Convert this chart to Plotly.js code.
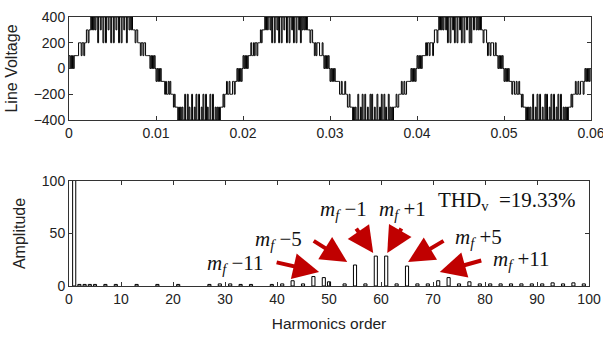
<!DOCTYPE html>
<html><head><meta charset="utf-8">
<script src="https://cdn.plot.ly/plotly-3.0.1.min.js"></script>
<style>html,body{margin:0;padding:0;background:#fff}#chart{width:603px;height:337px}</style>
</head><body><div id="chart"></div>
<script>
// ---- Top panel: multilevel PWM line voltage, sampled every 0.1 ms (V) ----
const sampleStep = 0.0001; // seconds between samples
const cycle1Pos = [100,0,100,0,100,0,100, 100,100,100,100,200, 200,200,100,200,200,100,200,200, 300,300,200,300,300, 400,300,400,300,400,300,400,
 400,200,400,400,300,400,400,200,400,400,200,400, 400,300,400,400,200,400,400,200,400,400,300,400, 400,200,400,400,200,400,400,300,400,400,200,400,
 400,300,400,300,400,300,300, 300,200,300,300,200, 200,200,100,200,200,100,200,200, 100,100,100,100,100, 0,100,0,100,0,100,0];
const cycle1Neg = [-100,0,-100,0,-100,0,-100, -100,-100,-100,-200,-100, -200,-200,-100,-200,-100,-200,-200,-200, -300,-200,-300,-300,-300, -400,-300,-400,-300,-400,-300,-400,
 -400,-200,-400,-400,-200,-400,-300,-400,-400,-200,-400,-400, -300,-400,-200,-400,-400,-200,-400,-400,-300,-400,-200,-400, -400,-200,-400,-300,-400,-400,-200,-400,-400,-200,-400,-400,
 -300,-400,-300,-400,-300,-400,-300, -300,-300,-200,-300,-200, -200,-100,-200,-200,-100,-200,-200,-200, -100,-100,-200,-100,-100, 0,-100,0,-100,0,-100,0];
const cycle2Pos = [100,0,100,0,100,0,100, 100,100,200,100,100, 200,100,200,200,100,200,200,200, 300,200,300,300,300, 400,300,400,300,400,400,300,
 400,200,400,400,200,400,400,300,400,200,400,400, 200,400,400,300,400,400,200,400,400,200,400,400, 300,400,200,400,400,200,400,400,300,400,200,400,
 300,400,300,400,300,400,300, 300,300,200,300,300, 200,200,100,200,100,200,200,200, 100,100,100,200,100, 0,100,0,100,0,100,0];
const cycle2Neg = [-100,0,-100,0,-100,0,-100, -100,-100,-100,-100,-200, -200,-100,-200,-200,-200,-100,-200,-200, -300,-300,-200,-300,-300, -300,-400,-300,-400,-300,-400,-400,
 -200,-400,-400,-300,-400,-200,-400,-400,-200,-400,-400,-300, -400,-400,-200,-400,-200,-400,-400,-300,-400,-400,-200,-400, -400,-300,-400,-200,-400,-400,-200,-400,-300,-400,-400,-200,
 -400,-300,-400,-300,-400,-300,-300, -300,-200,-300,-300,-200, -200,-200,-100,-200,-200,-100,-200,-200, -100,-100,-100,-100,-100, 0,-100,0,-100,0,-100,0];
const cycle3Pos = [100,0,100,0,100,0,100, 100,100,100,200,100, 200,200,100,200,200,200,100,200, 300,300,300,200,300, 400,300,400,300,400,300,400,
 400,300,400,200,400,400,200,400,400,300,400,200, 400,400,200,400,400,300,400,200,400,400,200,400, 400,300,400,400,200,400,200,400,400,300,400,400,
 300,400,300,400,300,400,300, 300,200,300,300,300, 200,100,200,200,100,200,200,200, 100,100,200,100,100, 0,100,0,100,0,100,0];
const cycle3Neg = [-100,0,-100,0,-100,0,-100, -100,-100,-200,-100,-100, -200,-200,-100,-200,-200,-100,-200,-200, -300,-200,-300,-300,-300, -400,-300,-400,-300,-400,-300,-400,
 -400,-200,-400,-400,-300,-400,-200,-400,-400,-200,-400,-400, -300,-400,-400,-200,-400,-200,-400,-400,-300,-400,-200,-400, -400,-200,-400,-400,-300,-400,-200,-400,-400,-200,-400,-400,
 -300,-400,-300,-400,-300,-400,-300, -300,-300,-200,-300,-200, -200,-200,-100,-200,-200,-100,-200,-200, -100,-100,-100,-200,-100, 0,-100,0,-100,0,-100,0];
const waveEnd = [0];
const lineVoltage = [].concat(cycle1Pos, cycle1Neg, cycle2Pos, cycle2Neg, cycle3Pos, cycle3Neg, waveEnd);

// ---- Bottom panel: harmonic spectrum (fundamental is off-scale, clipped at 100) ----
const harmonicOrder = [1,2,3,4,5,7,9,13,17,21,27,29,31,33,35,39,41,43,45,47,49,50,53,55,57,59,61,63,65,67,69,71,73,75,77,79,81,83,85,87,89,91,93,95,97,99];
const harmonicAmp   = [400,1.5,1.5,1.5,1.5,1.5,1.5,1.5,1.5,1.5,1.5,2,2,1.5,1.5,1.5,2,5,2,9,8,4,2,20,2,28.5,28.5,2,19,2,2,5,8,2,4,2,2,2,2,2,2,2,3,2,3,2];

const xTicksTop = [0,0.01,0.02,0.03,0.04,0.05,0.06];
const yTicksTop = [-400,-200,0,200,400];

// ---- Annotation labels ----
const labelText = ['<i>m</i><sub><i>f</i></sub> −11','<i>m</i><sub><i>f</i></sub> −5','<i>m</i><sub><i>f</i></sub> −1','<i>m</i><sub><i>f</i></sub> +1','<i>m</i><sub><i>f</i></sub> +5','<i>m</i><sub><i>f</i></sub> +11','THD<sub>v</sub>  =19.33%'];
const labelX = [32.1,40.2,52.7,64.2,78.8,87.1,84.2];
const labelY = [21,43.8,72.4,72.4,45.7,24.8,81];
const arrowTipX = [48.1,53.5,58.5,61.2,65.2,71.3];
const arrowTipY = [13.3,22.9,31.4,31.4,22.9,13.3];
const arrowAx = [-44,-35,-18,15,37,43];
const arrowAy = [-10,-22,-26,-26,-22,-12];

const axisFont = {family:'"Liberation Sans", Arial, sans-serif', size:14, color:'#222'};
const titleFont = {family:'"Liberation Sans", Arial, sans-serif', size:16, color:'#222'};
const frame = {showline:true, linecolor:'#333', linewidth:1, mirror:'ticks', ticks:'inside', ticklen:4, tickcolor:'#333', showgrid:false, zeroline:false, tickfont:axisFont, ticklabeloverflow:'allow'};

const traces = [
  {type:'scatter', mode:'lines', x0:0, dx:sampleStep, y:lineVoltage, line:{color:'#000', width:1, shape:'hv'}, xaxis:'x', yaxis:'y', hoverinfo:'skip'},
  {type:'bar', x:harmonicOrder, y:harmonicAmp, width:0.6, marker:{color:'#fff', line:{color:'#000', width:1}}, xaxis:'x2', yaxis:'y2', hoverinfo:'skip'}
];

const annotations = [];
for (let i = 0; i < labelText.length; i++) {
  annotations.push({xref:'x2', yref:'y2', x:labelX[i], y:labelY[i], text:labelText[i], showarrow:false,
    font:{family:'"Liberation Serif", "Times New Roman", serif', size:21, color:'#111'}, xanchor:'center', yanchor:'middle'});
}
for (let i = 0; i < arrowTipX.length; i++) {
  annotations.push({xref:'x2', yref:'y2', x:arrowTipX[i], y:arrowTipY[i], ax:arrowAx[i], ay:arrowAy[i], text:'', showarrow:true,
    arrowhead:2, arrowsize:1.3, arrowwidth:4, arrowcolor:'#c00000', standoff:0});
}

const layout = {
  width:603, height:337, margin:{l:69, r:12, t:17, b:51},
  paper_bgcolor:'#fff', plot_bgcolor:'#fff', showlegend:false,
  xaxis: Object.assign({}, frame, {domain:[0,1], range:[0,0.06], tickvals:xTicksTop, anchor:'y'}),
  yaxis: Object.assign({}, frame, {domain:[0.6171,1], range:[-400,400], tickvals:yTicksTop, anchor:'x',
    title:{text:'Line Voltage', font:titleFont, standoff:12}}),
  xaxis2: Object.assign({}, frame, {domain:[0,0.9962], range:[0,100], dtick:10, tick0:0, anchor:'y2',
    title:{text:'Harmonics order', font:{family:titleFont.family, size:15.5, color:'#222'}, standoff:12}}),
  yaxis2: Object.assign({}, frame, {domain:[0,0.3903], range:[0,100], dtick:50, tick0:0, anchor:'x2',
    title:{text:'Amplitude', font:titleFont, standoff:12}}),
  annotations: annotations
};

Plotly.newPlot('chart', traces, layout, {staticPlot:true, displayModeBar:false});
</script>
</body></html>
